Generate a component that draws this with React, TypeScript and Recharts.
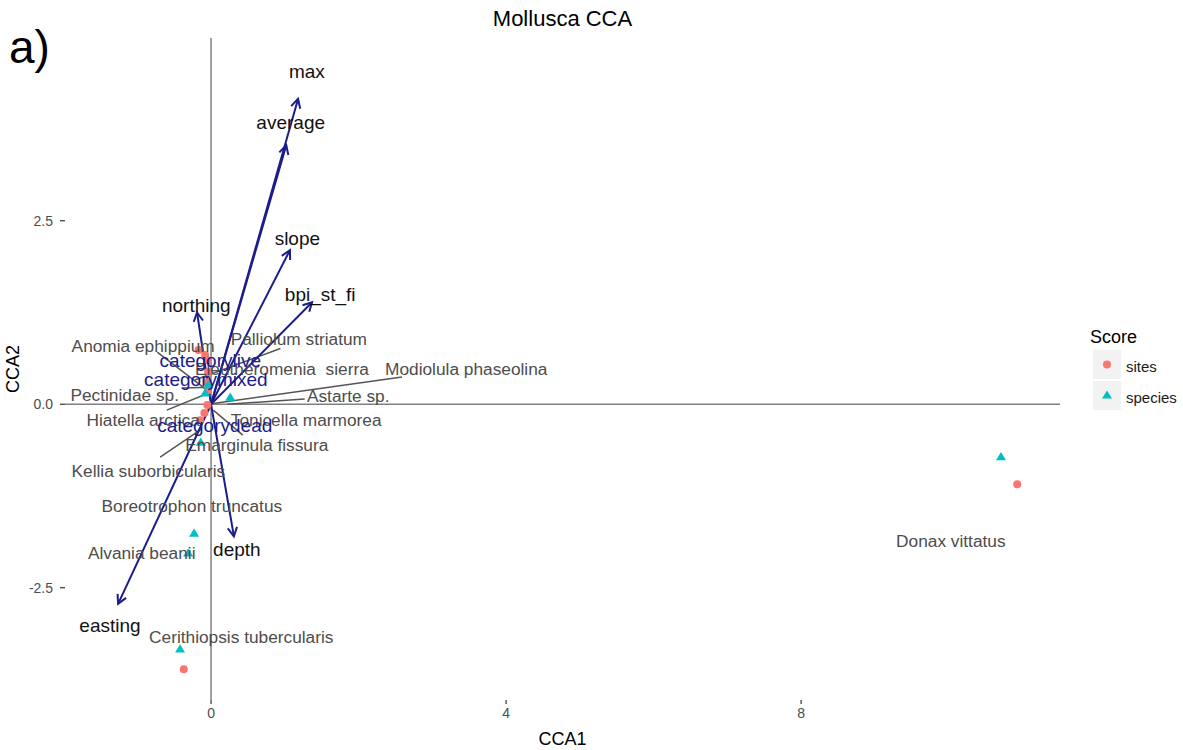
import React from 'react';
import { ScatterChart, Scatter, XAxis, YAxis, ReferenceLine, Legend } from 'recharts';

const FONT = '"Liberation Sans", Arial, Helvetica, sans-serif';

const xTicks = [0, 4, 8];
const yTicks = [-2.5, 0, 2.5];
const xDomain = [-1.98, 11.51];
const yDomain = [-4.03, 4.99];

// site scores
const siteX = [-0.17, -0.08, -0.05, -0.04, -0.05, -0.04, -0.05, -0.09, -0.15, -0.37, 10.93];
const siteY = [0.74, 0.67, 0.6, 0.44, 0.3, 0.19, -0.01, -0.12, -0.22, -3.61, -1.09];

// species scores
const speciesX = [10.71, 0.26, -0.08, -0.04, -0.14, -0.23, -0.31, -0.42];
const speciesY = [-0.72, 0.09, 0.15, 0.26, -0.52, -1.76, -2.03, -3.34];

// species labels
const speciesNames = [
  'Anomia ephippium',
  'Palliolum striatum',
  'Eleutheromenia  sierra',
  'Modiolula phaseolina',
  'Pectinidae sp.',
  'Astarte sp.',
  'Hiatella arctica',
  'Tonicella marmorea',
  'Emarginula fissura',
  'Kellia suborbicularis',
  'Boreotrophon truncatus',
  'Alvania beanii',
  'Cerithiopsis tubercularis',
  'Donax vittatus',
];
const speciesLabelX = [-0.92, 1.19, 0.96, 3.46, -1.17, 1.86, -0.92, 1.29, 0.62, -0.85, -0.26, -0.94, 0.41, 10.03];
const speciesLabelY = [0.8, 0.89, 0.48, 0.48, 0.12, 0.11, -0.22, -0.22, -0.56, -0.91, -1.39, -2.03, -3.17, -1.87];

// repel segments (point -> label)
const segFromX = [-0.05, -0.22, 0.03, -0.04, 0.22, 0.03, -0.19, -0.38];
const segFromY = [0.19, 0.33, 0.01, 0.15, 0.0, -0.08, -0.38, 0.22];
const segToX = [-0.73, 0.94, 2.59, -0.6, 1.27, 0.43, -0.69, -0.01];
const segToY = [0.71, 0.76, 0.37, -0.08, 0.07, -0.42, -0.72, 0.23];

// environmental arrows
const envNames = ['max', 'average', 'slope', 'bpi_st_fi', 'northing', 'depth', 'easting'];
const envX = [1.18, 1.02, 1.07, 1.37, -0.19, 0.31, -1.26];
const envY = [4.16, 3.53, 2.1, 1.39, 1.25, -1.8, -2.72];
const envLabelX = [1.3, 1.08, 1.17, 1.48, -0.2, 0.35, -1.37];
const envLabelY = [4.54, 3.84, 2.26, 1.49, 1.34, -1.98, -3.02];

// factor centroids labels
const catNames = ['categorylive', 'categorymixed', 'categorydead'];
const catLabelX = [-0.01, -0.07, 0.05];
const catLabelY = [0.59, 0.34, -0.29];

const legendNames = ['sites', 'species'];
const SITE_COLOR = '#F8766D';
const SPECIES_COLOR = '#00BFC4';
const ARROW_COLOR = '#1C1C8A';

const sites = siteX.map((x, i) => ({ x, y: siteY[i] }));
const species = speciesX.map((x, i) => ({ x, y: speciesY[i] }));
const speciesLabels = speciesNames.map((name, i) => ({ name, x: speciesLabelX[i], y: speciesLabelY[i] }));
const envLabels = envNames.map((name, i) => ({ name, x: envLabelX[i], y: envLabelY[i] }));
const catLabels = catNames.map((name, i) => ({ name, x: catLabelX[i], y: catLabelY[i] }));

const CircleShape = (p: any) => <circle cx={p.cx} cy={p.cy} r={4} fill={SITE_COLOR} />;
const TriShape = (p: any) => {
  const s = 5;
  return (
    <polygon
      points={`${p.cx},${p.cy - s} ${p.cx - s},${p.cy + s * 0.65} ${p.cx + s},${p.cy + s * 0.65}`}
      fill={SPECIES_COLOR}
    />
  );
};

const makeText = (fill: string, size: number) => (p: any) => (
  <text
    x={p.cx}
    y={p.cy}
    textAnchor="middle"
    dominantBaseline="central"
    fill={fill}
    fontSize={size}
    fontFamily={FONT}
    style={{ whiteSpace: 'pre' }}
  >
    {p.payload.name}
  </text>
);

const ArrowShape = (p: any) => {
  const { x1, y1, x2, y2 } = p;
  if ([x1, y1, x2, y2].some((v) => typeof v !== 'number' || isNaN(v))) return <g />;
  const ang = Math.atan2(y2 - y1, x2 - x1);
  const len = 10;
  const spread = (28 * Math.PI) / 180;
  const ax = x2 - len * Math.cos(ang - spread);
  const ay = y2 - len * Math.sin(ang - spread);
  const bx = x2 - len * Math.cos(ang + spread);
  const by = y2 - len * Math.sin(ang + spread);
  return (
    <g>
      <line x1={x1} y1={y1} x2={x2} y2={y2} stroke={ARROW_COLOR} strokeWidth={2} />
      <polyline points={`${ax},${ay} ${x2},${y2} ${bx},${by}`} fill="none" stroke={ARROW_COLOR} strokeWidth={2} />
    </g>
  );
};

const renderLegend = () => (
  <div style={{ position: 'relative', width: 95, height: 95, fontFamily: FONT }}>
    <div style={{ position: 'absolute', left: 2, top: 8, fontSize: 18, lineHeight: '18px', color: '#000' }}>Score</div>
    {legendNames.map((n, i) => (
      <React.Fragment key={n}>
        <div style={{ position: 'absolute', left: 5, top: 30 + i * 31, width: 28, height: 29, background: '#F2F2F2' }}>
          <svg width={28} height={29}>
            {i === 0 ? (
              <circle cx={14} cy={14.5} r={4} fill={SITE_COLOR} />
            ) : (
              <polygon points="14,9.5 9,17.5 19,17.5" fill={SPECIES_COLOR} />
            )}
          </svg>
        </div>
        <div style={{ position: 'absolute', left: 38, top: 38.5 + i * 31, fontSize: 15, lineHeight: '15px', color: '#1A1A1A' }}>{n}</div>
      </React.Fragment>
    ))}
  </div>
);

export default function App() {
  return (
    <div style={{ position: 'absolute', left: 0, top: 0, width: 1183, height: 750, background: '#fff', fontFamily: FONT }}>
      <ScatterChart width={1183} height={750} margin={{ top: 38, right: 123, bottom: 20, left: 25 }}>
        <XAxis
          type="number"
          dataKey="x"
          domain={xDomain}
          allowDataOverflow
          ticks={xTicks}
          height={30}
          axisLine={false}
          tickLine={{ stroke: '#333', strokeWidth: 1.2 }}
          tickSize={4}
          tickMargin={4}
          tick={{ fill: '#4D4D4D', fontSize: 14, fontFamily: FONT }}
        />
        <YAxis
          type="number"
          dataKey="y"
          domain={yDomain}
          allowDataOverflow
          ticks={yTicks}
          width={40}
          axisLine={false}
          tickLine={{ stroke: '#333', strokeWidth: 1.2 }}
          tickSize={5}
          tickMargin={7}
          tickFormatter={(v: number) => v.toFixed(1)}
          tick={{ fill: '#4D4D4D', fontSize: 14, fontFamily: FONT }}
        />
        <ReferenceLine y={0} stroke="#808080" strokeWidth={1.5} />
        <ReferenceLine x={0} stroke="#808080" strokeWidth={1.5} />
        <Scatter name="sites" data={sites} shape={CircleShape} isAnimationActive={false} />
        <Scatter name="species" data={species} shape={TriShape} isAnimationActive={false} />
        {segFromX.map((x, i) => (
          <ReferenceLine
            key={'seg' + i}
            segment={[
              { x, y: segFromY[i] },
              { x: segToX[i], y: segToY[i] },
            ]}
            stroke="#555555"
            strokeWidth={1.5}
          />
        ))}
        <Scatter name="speciesLabels" data={speciesLabels} shape={makeText('#4D4D4D', 17.3)} isAnimationActive={false} legendType="none" />
        {envNames.map((n, i) => (
          <ReferenceLine
            key={'arr' + n}
            segment={[
              { x: 0, y: 0 },
              { x: envX[i], y: envY[i] },
            ]}
            shape={ArrowShape}
          />
        ))}
        <Scatter name="envLabels" data={envLabels} shape={makeText('#111111', 19)} isAnimationActive={false} legendType="none" />
        <Scatter name="catLabels" data={catLabels} shape={makeText(ARROW_COLOR, 19)} isAnimationActive={false} legendType="none" />
        <Legend
          layout="vertical"
          align="center"
          verticalAlign="middle"
          content={renderLegend}
          wrapperStyle={{ left: 1088, top: 320, width: 95, height: 95 }}
        />
      </ScatterChart>
      <div style={{ position: 'absolute', left: 0, width: 1125, top: 8, textAlign: 'center', fontSize: 22, lineHeight: '22px', color: '#000' }}>
        Mollusca CCA
      </div>
      <div style={{ position: 'absolute', left: 9, top: 24, fontSize: 46, lineHeight: '46px', color: '#000' }}>a)</div>
      <div style={{ position: 'absolute', left: 0, width: 1125, top: 730, textAlign: 'center', fontSize: 18, lineHeight: '18px', color: '#000' }}>
        CCA1
      </div>
      <div
        style={{
          position: 'absolute',
          left: 13 - 30,
          top: 369 - 9,
          width: 60,
          height: 18,
          textAlign: 'center',
          fontSize: 18,
          lineHeight: '18px',
          color: '#000',
          transform: 'rotate(-90deg)',
        }}
      >
        CCA2
      </div>
    </div>
  );
}
